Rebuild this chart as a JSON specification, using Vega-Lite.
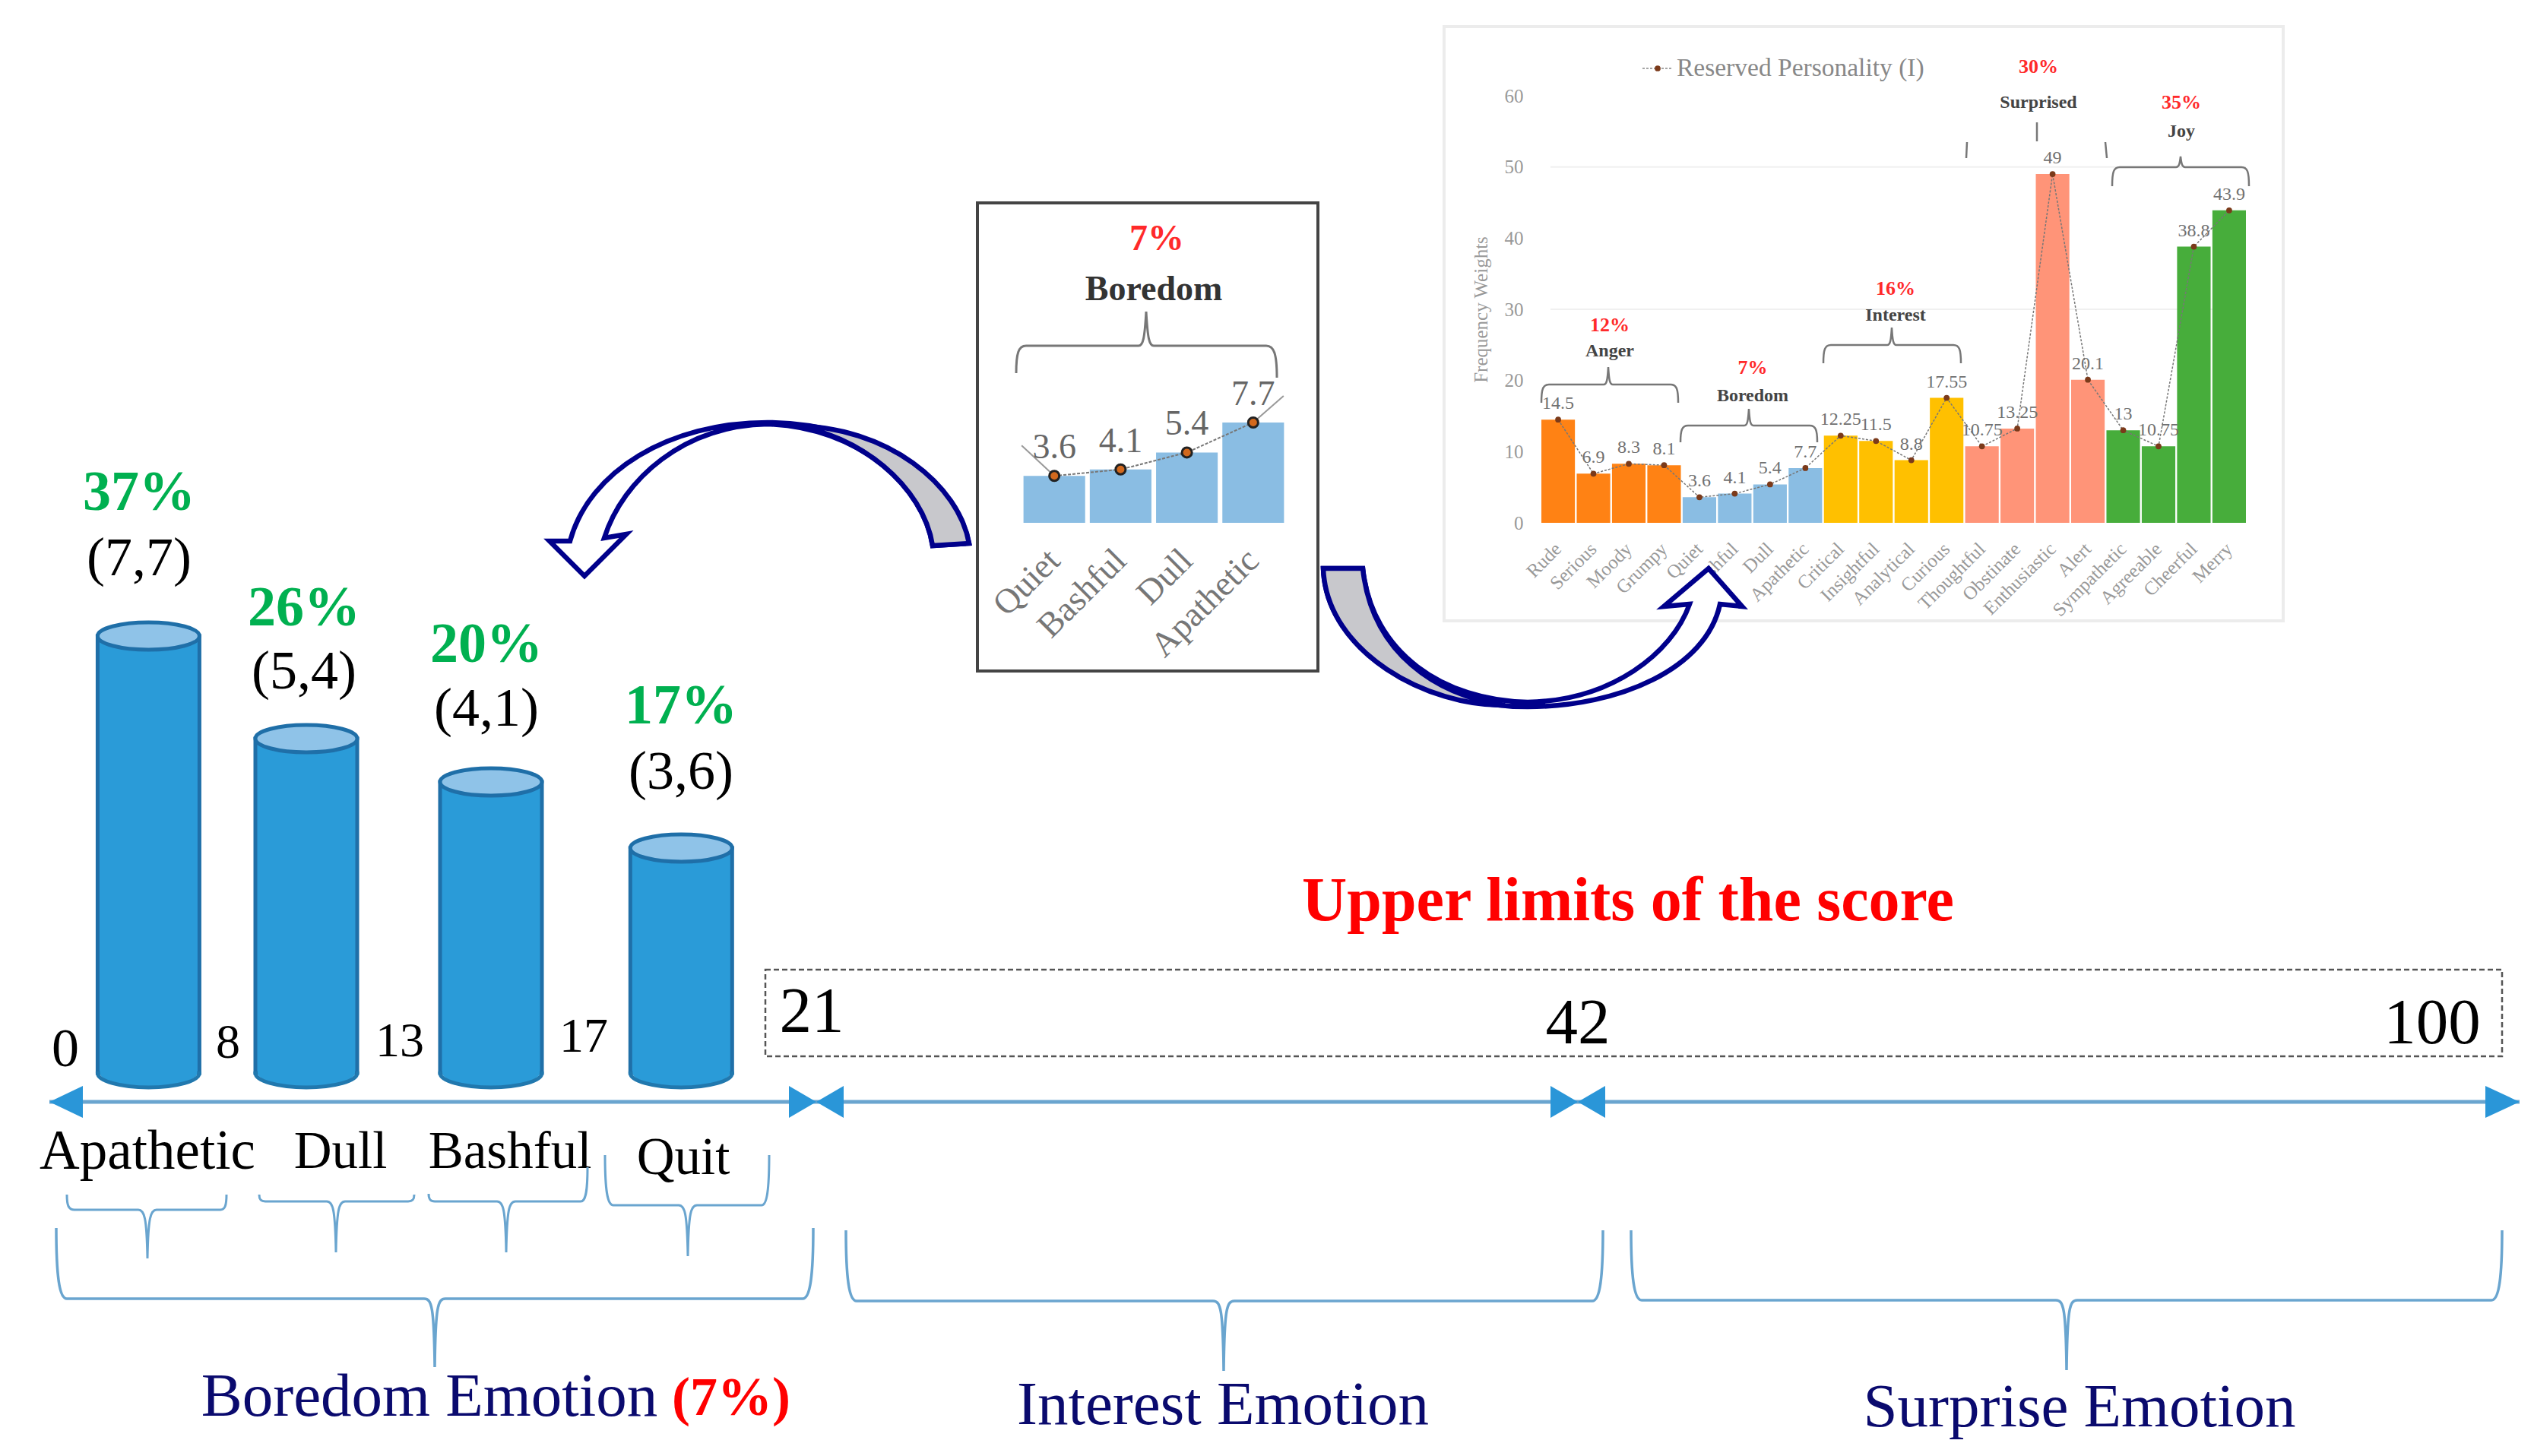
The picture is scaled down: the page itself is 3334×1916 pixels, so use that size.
{
  "$schema": "https://vega.github.io/schema/vega-lite/v6.json",
  "description": "Boredom emotion scoring diagram with weights chart inset",
  "width": 3334,
  "height": 1916,
  "padding": 0,
  "autosize": {"type": "none"},
  "background": "white",
  "config": {"font": "Liberation Serif", "view": {"stroke": null}},
  "datasets": {
    "weights": [
      {"emotion": "Rude", "group": "Anger", "weight": 14.5},
      {"emotion": "Serious", "group": "Anger", "weight": 6.9},
      {"emotion": "Moody", "group": "Anger", "weight": 8.3},
      {"emotion": "Grumpy", "group": "Anger", "weight": 8.1},
      {"emotion": "Quiet", "group": "Boredom", "weight": 3.6},
      {"emotion": "Bashful", "group": "Boredom", "weight": 4.1},
      {"emotion": "Dull", "group": "Boredom", "weight": 5.4},
      {"emotion": "Apathetic", "group": "Boredom", "weight": 7.7},
      {"emotion": "Critical", "group": "Interest", "weight": 12.25},
      {"emotion": "Insightful", "group": "Interest", "weight": 11.5},
      {"emotion": "Analytical", "group": "Interest", "weight": 8.8},
      {"emotion": "Curious", "group": "Interest", "weight": 17.55},
      {"emotion": "Thoughtful", "group": "Surprised", "weight": 10.75},
      {"emotion": "Obstinate", "group": "Surprised", "weight": 13.25},
      {"emotion": "Enthusiastic", "group": "Surprised", "weight": 49},
      {"emotion": "Alert", "group": "Surprised", "weight": 20.1},
      {"emotion": "Sympathetic", "group": "Joy", "weight": 13},
      {"emotion": "Agreeable", "group": "Joy", "weight": 10.75},
      {"emotion": "Cheerful", "group": "Joy", "weight": 38.8},
      {"emotion": "Merry", "group": "Joy", "weight": 43.9}
    ],
    "groups": [
      {"group": "Anger", "share": 12, "label": "12%"},
      {"group": "Boredom", "share": 7, "label": "7%"},
      {"group": "Interest", "share": 16, "label": "16%"},
      {"group": "Surprised", "share": 30, "label": "30%"},
      {"group": "Joy", "share": 35, "label": "35%"}
    ],
    "summary": [
      {"emotion": "Apathetic", "mid": 4, "weight": 7.7, "pair": "(7,7)", "percent": "37%"},
      {"emotion": "Dull", "mid": 10.5, "weight": 5.4, "pair": "(5,4)", "percent": "26%"},
      {"emotion": "Bashful", "mid": 15, "weight": 4.1, "pair": "(4,1)", "percent": "20%"},
      {"emotion": "Quit", "mid": 19, "weight": 3.6, "pair": "(3,6)", "percent": "17%"}
    ],
    "scores": [{"score": 0}, {"score": 8}, {"score": 13}, {"score": 17}, {"score": 21}, {"score": 42}, {"score": 100}],
    "segments": [
      {"name": "Boredom Emotion", "from": 0, "to": 21, "mid": 10.5},
      {"name": "Interest Emotion", "from": 21, "to": 42, "mid": 31.5},
      {"name": "Surprise Emotion", "from": 42, "to": 100, "mid": 71}
    ],
    "tips": [
      {"score": 0, "points": "outer left"},
      {"score": 21, "points": "right"},
      {"score": 21, "points": "left"},
      {"score": 42, "points": "right"},
      {"score": 42, "points": "left"},
      {"score": 100, "points": "outer right"}
    ],
    "panels": [{"panel": "Detail"}, {"panel": "Weights"}],
    "arrows": [{"arrow": "To summary"}, {"arrow": "To weights"}]
  },
  "resolve": {"scale": {"x": "independent", "y": "independent", "shape": "independent", "stroke": "independent", "size": "independent", "color": "independent"}},
  "layer": [
    {
      "data": {"name": "panels"},
      "mark": {"type": "point", "filled": false, "size": 4, "strokeWidth": 4, "opacity": 1},
      "encoding": {
        "x": {"field": "panel", "type": "nominal", "axis": null, "scale": {"type": "point", "padding": 0, "domain": ["Detail", "Weights"], "range": [1510, 2452]}},
        "y": {"field": "panel", "type": "nominal", "axis": null, "scale": {"type": "point", "padding": 0, "domain": ["Detail", "Weights"], "range": [575, 426]}},
        "shape": {"field": "panel", "type": "nominal", "legend": null, "scale": {"domain": ["Detail", "Weights"], "range": ["M-224,-308 H224 V308 H-224 Z", "M-552,-391 H552 V391 H-552 Z"]}},
        "stroke": {"field": "panel", "type": "nominal", "legend": null, "scale": {"domain": ["Detail", "Weights"], "range": ["#444444", "#ececec"]}}
      }
    },
    {
      "data": {"values": [{"gridline": 30}, {"gridline": 50}]},
      "mark": {"type": "point", "filled": false, "size": 4, "stroke": "#f0f0f0", "strokeWidth": 2, "opacity": 1, "shape": "M0,0 L915,0"},
      "encoding": {
        "x": {"field": "gridline", "type": "quantitative", "axis": null, "scale": {"domain": [0, 60], "range": [2040, 2040]}},
        "y": {"field": "gridline", "type": "quantitative", "axis": null, "scale": {"domain": [0, 60], "range": [688, 126], "nice": false}}
      }
    },
    {
      "data": {"name": "weights"},
      "encoding": {
        "x": {
          "field": "emotion", "type": "nominal", "sort": null,
          "scale": {"type": "band", "range": [2028, 2955], "paddingInner": 0.05, "paddingOuter": 0},
          "axis": {"orient": "bottom", "offset": -1228, "title": null, "domain": false, "ticks": false, "labelAngle": -45, "labelAlign": "right", "labelBaseline": "middle", "labelPadding": 30, "labelFontSize": 25, "labelColor": "#999999", "labelOverlap": false, "labelLimit": 400}
        },
        "y": {
          "field": "weight", "type": "quantitative",
          "scale": {"domain": [0, 60], "range": [688, 126], "nice": false},
          "axis": {"orient": "left", "offset": -2012, "title": "Frequency Weights", "titleFontSize": 25, "titleFontWeight": "normal", "titleColor": "#999999", "titlePadding": 18, "values": [0, 10, 20, 30, 40, 50, 60], "grid": false, "domain": false, "ticks": false, "labelPadding": 8, "labelFontSize": 25, "labelColor": "#999999"}
        }
      },
      "layer": [
        {
          "mark": {"type": "bar"},
          "encoding": {
            "color": {"field": "group", "type": "nominal", "legend": null, "scale": {"domain": ["Anger", "Boredom", "Interest", "Surprised", "Joy"], "range": ["#ff8214", "#8abde3", "#ffc000", "#ff9478", "#47ad3b"]}}
          }
        },
        {"mark": {"type": "line", "stroke": "#777777", "strokeWidth": 1.5, "strokeDash": [3, 2]}},
        {"mark": {"type": "point", "filled": true, "fill": "#7b3a1a", "size": 60, "opacity": 1}},
        {
          "mark": {"type": "text", "dy": -21, "fontSize": 24, "fill": "#707070"},
          "encoding": {"text": {"field": "weight", "type": "quantitative"}}
        }
      ]
    },
    {
      "data": {"name": "groups"},
      "mark": {"type": "text", "fontSize": 26, "fontWeight": "bold", "fill": "#ff2a2a"},
      "encoding": {
        "x": {"field": "group", "type": "nominal", "axis": null, "scale": {"type": "point", "padding": 0, "domain": ["Anger", "Boredom", "Interest", "Surprised", "Joy"], "range": [2118, 2870]}},
        "y": {"field": "share", "type": "quantitative", "axis": null, "scale": {"domain": [7, 12, 16, 30, 35], "range": [484, 428, 380, 88, 135]}},
        "text": {"field": "label"}
      }
    },
    {
      "data": {"name": "groups"},
      "mark": {"type": "text", "fontSize": 24, "fontWeight": "bold", "fill": "#444444"},
      "encoding": {
        "x": {"field": "group", "type": "nominal", "axis": null, "scale": {"type": "point", "padding": 0, "domain": ["Anger", "Boredom", "Interest", "Surprised", "Joy"], "range": [2118, 2870]}},
        "y": {"field": "share", "type": "quantitative", "axis": null, "scale": {"domain": [7, 12, 16, 30, 35], "range": [521, 462, 415, 135, 173]}},
        "text": {"field": "group"}
      }
    },
    {
      "data": {"name": "groups"},
      "mark": {"type": "point", "filled": false, "size": 4, "stroke": "#777777", "strokeWidth": 2.5, "opacity": 1},
      "encoding": {
        "x": {"field": "group", "type": "nominal", "axis": null, "scale": {"type": "point", "padding": 0, "domain": ["Anger", "Boredom", "Interest", "Surprised", "Joy"], "range": [2118, 2870]}},
        "y": {"field": "share", "type": "quantitative", "axis": null, "scale": {"domain": [7, 12, 16, 30, 35], "range": [560, 506, 454, 190, 220]}},
        "shape": {
          "field": "group", "type": "nominal", "legend": null,
          "scale": {
            "domain": ["Anger", "Boredom", "Interest", "Surprised", "Joy"],
            "range": [
              "M-90,24 C-90,6 -88,0 -80,0 L-8,0 C-4,0 -3,-6 -2,-23 C-1,-6 0,0 4,0 L80,0 C88,0 90,6 90,24",
              "M-95,22 C-95,6 -93,0 -85,0 L-11,0 C-7,0 -6,-6 -5,-22 C-4,-6 -3,0 1,0 L75,0 C83,0 85,6 85,22",
              "M-95,24 C-95,6 -93,0 -85,0 L-11,0 C-7,0 -6,-6 -5,-23 C-4,-6 -3,0 1,0 L76,0 C84,0 86,6 86,24",
              "M-94,-3 L-95,18 M-2,-29 L-2,-4 M88,-3 L90,18",
              "M-91,25 C-91,6 -89,0 -81,0 L-7,0 C-3,0 -2,-5 -1,-14 C0,-5 1,0 5,0 L79,0 C87,0 89,6 89,25"
            ]
          }
        }
      }
    },
    {
      "data": {"values": [{"series": "Reserved Personality (I)"}]},
      "mark": {"type": "text", "align": "left", "fontSize": 33.5, "fill": "#888888"},
      "encoding": {
        "x": {"field": "series", "type": "nominal", "axis": null, "scale": {"type": "point", "padding": 0, "range": [2206, 2206]}},
        "y": {"field": "series", "type": "nominal", "axis": null, "scale": {"type": "point", "padding": 0, "range": [90, 90]}},
        "text": {"field": "series"}
      }
    },
    {
      "data": {"values": [{"series": "Reserved Personality (I)"}]},
      "encoding": {
        "x": {"field": "series", "type": "nominal", "axis": null, "scale": {"type": "point", "padding": 0, "range": [2181, 2181]}},
        "y": {"field": "series", "type": "nominal", "axis": null, "scale": {"type": "point", "padding": 0, "range": [90, 90]}}
      },
      "layer": [
        {"mark": {"type": "point", "filled": false, "size": 4, "shape": "M-20,0 L18,0", "stroke": "#888888", "strokeWidth": 1.5, "strokeDash": [3, 2], "opacity": 1}},
        {"mark": {"type": "point", "filled": true, "fill": "#7b3a1a", "size": 60, "opacity": 1}}
      ]
    },
    {
      "data": {"name": "weights"},
      "transform": [{"filter": "datum.group == 'Boredom'"}],
      "encoding": {
        "x": {
          "field": "emotion", "type": "nominal",
          "scale": {"type": "band", "domain": ["Quiet", "Bashful", "Dull", "Apathetic"], "range": [1344, 1692], "paddingInner": 0.07, "paddingOuter": 0.03},
          "axis": {"orient": "bottom", "offset": -1228, "title": null, "domain": false, "ticks": false, "labelAngle": -45, "labelAlign": "right", "labelBaseline": "middle", "labelPadding": 42, "labelFontSize": 46, "labelColor": "#777777", "labelOverlap": false, "labelLimit": 500}
        },
        "y": {"field": "weight", "type": "quantitative", "axis": null, "scale": {"domain": [0, 7.7], "range": [688, 556], "nice": false}}
      },
      "layer": [
        {"mark": {"type": "bar", "fill": "#8abde3"}},
        {"mark": {"type": "line", "stroke": "#777777", "strokeWidth": 2, "strokeDash": [4, 2]}},
        {
          "transform": [{"filter": "datum.emotion == 'Quiet' || datum.emotion == 'Apathetic'"}],
          "mark": {"type": "point", "filled": false, "size": 4, "stroke": "#999999", "strokeWidth": 2, "opacity": 1},
          "encoding": {"shape": {"field": "emotion", "type": "nominal", "legend": null, "scale": {"domain": ["Quiet", "Apathetic"], "range": ["M0,0 L-43,-40", "M0,0 L40,-35"]}}}
        },
        {"mark": {"type": "point", "filled": true, "fill": "#d2691e", "stroke": "#222222", "strokeWidth": 3, "size": 170, "opacity": 1}},
        {
          "mark": {"type": "text", "dy": -37, "fontSize": 46, "fill": "#666666"},
          "encoding": {"text": {"field": "weight", "type": "quantitative"}}
        }
      ]
    },
    {
      "data": {"values": [{"group": "Boredom", "label": "7%"}]},
      "mark": {"type": "text", "fontSize": 48, "fontWeight": "bold", "fill": "#ff2a2a"},
      "encoding": {
        "x": {"field": "group", "type": "nominal", "axis": null, "scale": {"type": "point", "padding": 0, "range": [1522, 1522]}},
        "y": {"field": "group", "type": "nominal", "axis": null, "scale": {"type": "point", "padding": 0, "range": [315, 315]}},
        "text": {"field": "label"}
      }
    },
    {
      "data": {"values": [{"group": "Boredom"}]},
      "mark": {"type": "text", "fontSize": 46, "fontWeight": "bold", "fill": "#333333"},
      "encoding": {
        "x": {"field": "group", "type": "nominal", "axis": null, "scale": {"type": "point", "padding": 0, "range": [1518, 1518]}},
        "y": {"field": "group", "type": "nominal", "axis": null, "scale": {"type": "point", "padding": 0, "range": [381, 381]}},
        "text": {"field": "group"}
      }
    },
    {
      "data": {"values": [{"group": "Boredom"}]},
      "mark": {"type": "point", "filled": false, "size": 4, "stroke": "#777777", "strokeWidth": 3, "opacity": 1, "shape": "M-171,36 C-171,10 -168,0 -158,0 L-10,0 C-4,0 -2,-10 0,-45 C2,-10 4,0 10,0 L158,0 C168,0 172,10 172,42"},
      "encoding": {
        "x": {"field": "group", "type": "nominal", "axis": null, "scale": {"type": "point", "padding": 0, "range": [1508, 1508]}},
        "y": {"field": "group", "type": "nominal", "axis": null, "scale": {"type": "point", "padding": 0, "range": [455, 455]}}
      }
    },
    {
      "data": {"name": "arrows"},
      "mark": {"type": "point", "filled": true, "fill": "white", "stroke": "#00008b", "strokeWidth": 6.5, "size": 4, "opacity": 1},
      "encoding": {
        "x": {"field": "arrow", "type": "nominal", "axis": null, "scale": {"type": "point", "padding": 0, "domain": ["To summary", "To weights"], "range": [1000, 2000]}},
        "y": {"field": "arrow", "type": "nominal", "axis": null, "scale": {"type": "point", "padding": 0, "domain": ["To summary", "To weights"], "range": [640, 840]}},
        "shape": {"field": "arrow", "type": "nominal", "legend": null, "scale": {"domain": ["To summary", "To weights"], "range": [
          "M275,75 C262,0 150,-84 10,-84 C-120,-84 -225,-20 -250,72 L-277,72 L-231,118 L-176,63 L-205,68 C-180,-10 -100,-80 10,-82 C130,-78 215,0 227,78 Z",
          "M-259,-92 C-255,20 -120,90 10,90 C130,90 245,40 263,-45 L292,-42 L248,-92 L189,-42 L223,-45 C200,20 120,82 10,84 C-100,82 -195,20 -207,-92 Z"
        ]}}
      }
    },
    {
      "data": {"name": "arrows"},
      "mark": {"type": "point", "filled": true, "fill": "#c8c8cc", "stroke": "#00008b", "strokeWidth": 6.5, "size": 4, "opacity": 1},
      "encoding": {
        "x": {"field": "arrow", "type": "nominal", "axis": null, "scale": {"type": "point", "padding": 0, "domain": ["To summary", "To weights"], "range": [1000, 2000]}},
        "y": {"field": "arrow", "type": "nominal", "axis": null, "scale": {"type": "point", "padding": 0, "domain": ["To summary", "To weights"], "range": [640, 840]}},
        "shape": {"field": "arrow", "type": "nominal", "legend": null, "scale": {"domain": ["To summary", "To weights"], "range": [
          "M275,75 C262,0 170,-80 40,-80 C130,-70 215,0 227,78 Z",
          "M-259,-92 C-255,20 -120,90 -20,88 C-110,75 -195,20 -207,-92 Z"
        ]}}
      }
    },
    {
      "data": {"name": "summary"},
      "encoding": {
        "x": {"field": "mid", "type": "quantitative", "axis": null, "scale": {"domain": [4, 10.5, 15, 19], "range": [192, 403, 646, 903]}},
        "y": {"field": "weight", "type": "quantitative", "axis": null, "scale": {"domain": [0, 3.6, 4.1, 5.4, 7.7], "range": [1412, 1116, 1029, 972, 837], "nice": false}}
      },
      "layer": [
        {
          "mark": {"type": "bar", "width": 134, "fill": "#2a9bd8", "stroke": "#1f6fa8", "strokeWidth": 5},
          "encoding": {"y2": {"datum": 0}}
        },
        {
          "mark": {"type": "point", "filled": true, "fill": "#2a9bd8", "strokeWidth": 0, "size": 4, "opacity": 1, "shape": "M-64,-4 L64,-4 L64,0 A64,18 0 0 1 -64,0 Z"},
          "encoding": {"y": {"datum": 0}}
        },
        {
          "mark": {"type": "point", "filled": false, "stroke": "#2178ae", "strokeWidth": 5, "size": 4, "opacity": 1, "shape": "M-67,-2 L-67,0 A67,19 0 0 0 67,0 L67,-2"},
          "encoding": {"y": {"datum": 0}}
        },
        {"mark": {"type": "point", "filled": true, "fill": "#8fc3e8", "stroke": "#1f6fa8", "strokeWidth": 5, "size": 4, "opacity": 1, "shape": "M-67,0 A67,18 0 1 1 67,0 A67,18 0 1 1 -67,0 Z"}}
      ]
    },
    {
      "data": {"name": "summary"},
      "mark": {"type": "text", "fontSize": 74, "fontWeight": "bold", "fill": "#00b050"},
      "encoding": {
        "x": {"field": "mid", "type": "quantitative", "axis": null, "scale": {"domain": [4, 10.5, 15, 19], "range": [183, 400, 640, 896]}},
        "y": {"field": "weight", "type": "quantitative", "axis": null, "scale": {"domain": [3.6, 4.1, 5.4, 7.7], "range": [930, 849, 801, 649], "nice": false}},
        "text": {"field": "percent"}
      }
    },
    {
      "data": {"name": "summary"},
      "mark": {"type": "text", "fontSize": 72, "fill": "#000000"},
      "encoding": {
        "x": {"field": "mid", "type": "quantitative", "axis": null, "scale": {"domain": [4, 10.5, 15, 19], "range": [183, 400, 640, 896]}},
        "y": {"field": "weight", "type": "quantitative", "axis": null, "scale": {"domain": [3.6, 4.1, 5.4, 7.7], "range": [1016, 933, 884, 735], "nice": false}},
        "text": {"field": "pair"}
      }
    },
    {
      "data": {"name": "summary"},
      "mark": {"type": "text", "fill": "#000000"},
      "encoding": {
        "x": {"field": "mid", "type": "quantitative", "axis": null, "scale": {"domain": [4, 10.5, 15, 19], "range": [194, 448, 671, 899]}},
        "y": {"field": "mid", "type": "quantitative", "axis": null, "scale": {"domain": [4, 10.5, 15, 19], "range": [1516, 1516, 1516, 1524]}},
        "size": {"field": "mid", "type": "quantitative", "legend": null, "scale": {"domain": [4, 10.5, 19], "range": [73, 69, 69]}},
        "text": {"field": "emotion"}
      }
    },
    {
      "data": {"name": "summary"},
      "mark": {"type": "point", "filled": false, "stroke": "#6aa5cf", "strokeWidth": 3, "size": 4, "opacity": 1},
      "encoding": {
        "x": {"field": "mid", "type": "quantitative", "axis": null, "scale": {"domain": [4, 10.5, 15, 19], "range": [194, 442, 666, 905]}},
        "y": {"field": "mid", "type": "quantitative", "axis": null, "scale": {"domain": [4, 10.5, 15, 19], "range": [1592, 1581, 1581, 1586]}},
        "shape": {
          "field": "emotion", "type": "nominal", "legend": null,
          "scale": {
            "domain": ["Apathetic", "Dull", "Bashful", "Quit"],
            "range": [
              "M-106,-20 C-106,-6 -104,0 -96,0 L-12,0 C-4,0 -1,10 0,64 C1,10 4,0 12,0 L96,0 C102,0 104,-6 104,-20",
              "M-101,-9 C-101,-3 -99,0 -93,0 L-12,0 C-4,0 -1,10 0,67 C1,10 4,0 12,0 L95,0 C101,0 103,-3 103,-9",
              "M-102,-10 C-102,-3 -100,0 -94,0 L-12,0 C-4,0 -1,10 0,67 C1,10 4,0 12,0 L98,0 C104,0 107,-10 107,-45",
              "M-109,-66 C-109,-20 -106,0 -98,0 L-12,0 C-4,0 -1,10 0,67 C1,10 4,0 12,0 L97,0 C104,0 107,-20 107,-66"
            ]
          }
        }
      }
    },
    {
      "data": {"name": "scores"},
      "mark": {"type": "text", "fill": "#000000"},
      "encoding": {
        "x": {"field": "score", "type": "quantitative", "axis": null, "scale": {"domain": [0, 8, 13, 17, 21, 42, 100], "range": [86, 300, 526, 768, 1068, 2076, 3200]}},
        "y": {"field": "score", "type": "quantitative", "axis": null, "scale": {"domain": [0, 8, 13, 17, 21, 42, 100], "range": [1381, 1373, 1371, 1365, 1332, 1347, 1347]}},
        "size": {"field": "score", "type": "quantitative", "legend": null, "scale": {"domain": [0, 8, 17, 21, 100], "range": [72, 64, 64, 85, 85]}},
        "text": {"field": "score", "type": "quantitative"}
      }
    },
    {
      "data": {"name": "segments"},
      "mark": {"type": "rule", "stroke": "#6aa5cf", "strokeWidth": 5},
      "encoding": {
        "x": {"field": "from", "type": "quantitative", "axis": null, "scale": {"domain": [0, 21, 42, 100], "range": [65, 1074, 2076, 3315]}},
        "x2": {"field": "to"},
        "y": {"field": "from", "type": "quantitative", "axis": null, "scale": {"domain": [0, 100], "range": [1450, 1450]}}
      }
    },
    {
      "data": {"name": "tips"},
      "mark": {"type": "point", "filled": true, "fill": "#2a96d8", "strokeWidth": 0, "size": 4, "opacity": 1},
      "encoding": {
        "x": {"field": "score", "type": "quantitative", "axis": null, "scale": {"domain": [0, 21, 42, 100], "range": [65, 1074, 2076, 3315]}},
        "y": {"field": "score", "type": "quantitative", "axis": null, "scale": {"domain": [0, 100], "range": [1450, 1450]}},
        "shape": {"field": "points", "type": "nominal", "legend": null, "scale": {"domain": ["left", "right", "outer left", "outer right"], "range": ["M0,0 L36,-21 L36,21 Z", "M0,0 L-36,-21 L-36,21 Z", "M0,0 L44,-21 L44,21 Z", "M0,0 L-45,-21 L-45,21 Z"]}}
      }
    },
    {
      "data": {"values": [{"caption": "Upper limits of the score", "from": 21, "to": 100, "mid": 60.5}]},
      "mark": {"type": "rect", "fill": "transparent", "stroke": "#555555", "strokeWidth": 2.5, "strokeDash": [7, 4]},
      "encoding": {
        "x": {"field": "from", "type": "quantitative", "axis": null, "scale": {"domain": [21, 100], "range": [1007, 3292]}},
        "x2": {"field": "to"},
        "y": {"field": "from", "type": "quantitative", "axis": null, "scale": {"domain": [21, 100], "range": [1276, 1390]}},
        "y2": {"field": "to"}
      }
    },
    {
      "data": {"values": [{"caption": "Upper limits of the score", "from": 21, "to": 100, "mid": 60.5}]},
      "mark": {"type": "text", "fontSize": 82, "fontWeight": "bold", "fill": "#ff0000"},
      "encoding": {
        "x": {"field": "mid", "type": "quantitative", "axis": null, "scale": {"domain": [21, 100], "range": [1000, 3284]}},
        "y": {"field": "mid", "type": "quantitative", "axis": null, "scale": {"domain": [0, 100], "range": [1186, 1186]}},
        "text": {"field": "caption"}
      }
    },
    {
      "data": {"name": "segments"},
      "mark": {"type": "point", "filled": false, "stroke": "#6aa5cf", "strokeWidth": 3.5, "size": 4, "opacity": 1},
      "encoding": {
        "x": {"field": "mid", "type": "quantitative", "axis": null, "scale": {"domain": [10.5, 31.5, 71], "range": [572, 1610, 2719]}},
        "y": {"field": "mid", "type": "quantitative", "axis": null, "scale": {"domain": [10.5, 31.5, 71], "range": [1709, 1712, 1711]}},
        "shape": {
          "field": "name", "type": "nominal", "legend": null,
          "scale": {
            "domain": ["Boredom Emotion", "Interest Emotion", "Surprise Emotion"],
            "range": [
              "M-498,-93 C-498,-30 -494,0 -484,0 L-14,0 C-4,0 -1,10 0,90 C1,10 4,0 14,0 L484,0 C494,0 498,-30 498,-93",
              "M-497,-93 C-497,-30 -493,0 -483,0 L-14,0 C-4,0 -1,10 0,92 C1,10 4,0 14,0 L485,0 C495,0 499,-30 499,-93",
              "M-573,-92 C-573,-30 -569,0 -559,0 L-14,0 C-4,0 -1,10 0,92 C1,10 4,0 14,0 L559,0 C569,0 573,-30 573,-92"
            ]
          }
        }
      }
    },
    {
      "data": {"name": "segments"},
      "mark": {"type": "text", "fontSize": 81, "fill": "#0a0a6e"},
      "encoding": {
        "x": {"field": "mid", "type": "quantitative", "axis": null, "scale": {"domain": [10.5, 31.5, 71], "range": [565, 1609, 2736]}},
        "y": {"field": "mid", "type": "quantitative", "axis": null, "scale": {"domain": [10.5, 31.5, 71], "range": [1839, 1850, 1853]}},
        "text": {"field": "name"}
      }
    },
    {
      "data": {"values": [{"name": "Boredom Emotion", "share": "(7%)"}]},
      "mark": {"type": "text", "fontSize": 72, "fontWeight": "bold", "fill": "#ff0000"},
      "encoding": {
        "x": {"field": "name", "type": "nominal", "axis": null, "scale": {"type": "point", "padding": 0, "range": [962, 962]}},
        "y": {"field": "name", "type": "nominal", "axis": null, "scale": {"type": "point", "padding": 0, "range": [1840, 1840]}},
        "text": {"field": "share"}
      }
    }
  ]
}
